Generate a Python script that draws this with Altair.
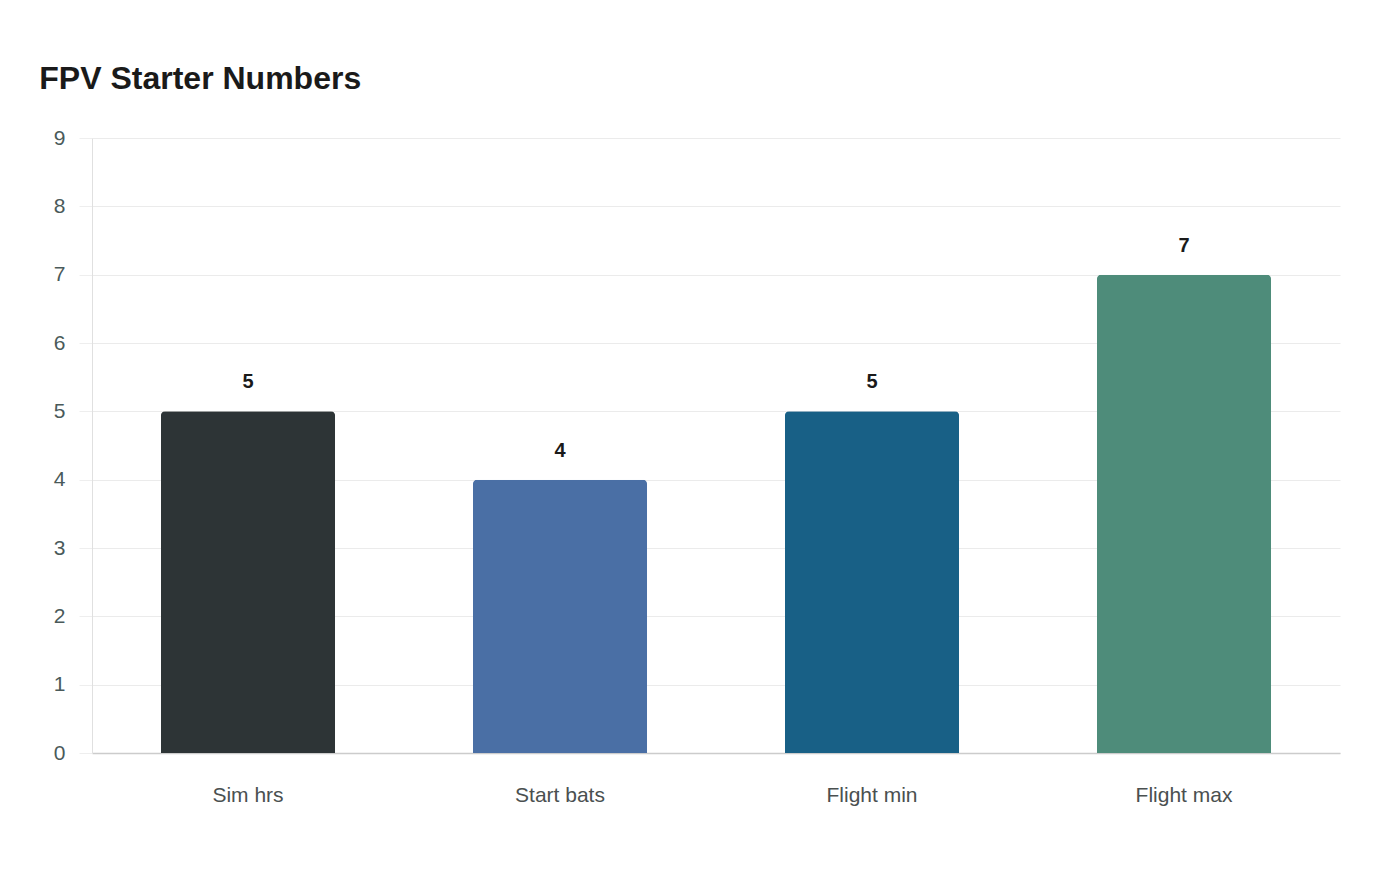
import altair as alt
import pandas as pd

categories = ["Sim hrs", "Start bats", "Flight min", "Flight max"]
values = [5, 4, 5, 7]
colors = ["#2d3436", "#4a6fa5", "#186086", "#4e8c7a"]

df = pd.DataFrame({"cat": categories, "val": values})

FONT = "Liberation Sans"

x = alt.X("cat:N", sort=categories, title=None,
          scale=alt.Scale(paddingInner=0.442, paddingOuter=0.221),
          axis=alt.Axis(labelAngle=0, labelFontSize=21, labelColor="#4a5050",
                        labelFont=FONT, ticks=False, labelPadding=31,
                        domainColor="#cccccc", domainWidth=1.5, grid=False))
y = alt.Y("val:Q", title=None,
          scale=alt.Scale(domain=[0, 9], nice=False),
          axis=alt.Axis(values=list(range(10)), labelFontSize=21, labelColor="#4a5a5a",
                        labelFont=FONT, tickColor="#eeeeee", tickSize=13, labelPadding=14,
                        domainColor="#e0e0e0", gridColor="#ebebeb", tickCount=10))

bars = alt.Chart(df).mark_bar(cornerRadiusTopLeft=4, cornerRadiusTopRight=4).encode(
    x=x, y=y,
    color=alt.Color("cat:N", sort=categories,
                    scale=alt.Scale(domain=categories, range=colors), legend=None),
)

text = alt.Chart(df).mark_text(dy=-29, fontSize=20, fontWeight="bold", font=FONT,
                               color="#1a1a1a").encode(
    x=alt.X("cat:N", sort=categories), y="val:Q", text="val:Q")

chart = (bars + text).properties(
    width=1248, height=615,
    title=alt.TitleParams("FPV Starter Numbers", anchor="start", fontSize=32, font=FONT,
                          fontWeight="bold", color="#1a1a1a", dx=-14, offset=31),
    autosize=alt.AutoSizeParams(type="none"),
    padding={"left": 84, "top": 130, "right": 40, "bottom": 60},
).configure_view(stroke=None)

chart.save("out.html", embed_options={"renderer": "svg", "actions": False})
